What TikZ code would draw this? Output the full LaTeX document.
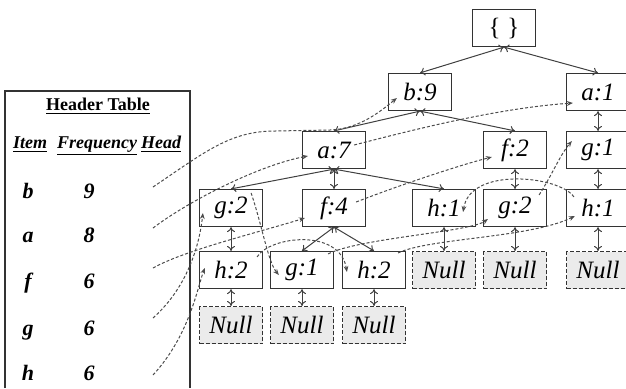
\documentclass[tikz,border=0pt]{standalone}
\usepackage{fontspec}
\setmainfont{Liberation Serif}
\usetikzlibrary{arrows.meta,trees}
\begin{document}
\begin{tikzpicture}[
    x=0.5pt, y=-0.5pt,
    >={To[length=2.5pt,width=4pt]},
    every node/.style={font=\fontsize{12.5}{14}\selectfont\itshape, draw=black!80, line width=0.6pt, minimum width=31.5pt, minimum height=18.5pt, inner sep=0pt},
    nullnode/.style={fill=black!8, dash pattern=on 2pt off 1pt},
    plain/.style={draw=none, minimum width=0pt, minimum height=0pt, inner sep=1pt, anchor=base},
    titletext/.style={plain, font=\fontsize{9}{11}\selectfont\bfseries},
    colhead/.style={plain, font=\fontsize{9}{11}\selectfont\bfseries\itshape},
    rowtext/.style={plain, font=\fontsize{11}{13}\selectfont\bfseries\itshape},
    link/.style={draw=black!70, line width=0.5pt, dash pattern=on 1.5pt off 1pt, -{Stealth[length=3pt,width=2.4pt]}},
    edge from parent/.style={draw=black!75, line width=0.5pt, <->},
    edge from parent path={(\tikzparentnode.south) -- (\tikzchildnode.north)},
    level 1/.style={level distance=32pt, sibling distance=89pt},
    level 2/.style={level distance=29pt, sibling distance=90.5pt},
    level 3/.style={level distance=29pt, sibling distance=55pt},
    level 4/.style={level distance=31pt, sibling distance=36pt},
    level 5/.style={level distance=27.5pt}
]
\useasboundingbox (0,0) rectangle (626,388);
\draw[black!80, line width=0.6pt] (5,388) -- (5,91) -- (190,91) -- (190,388);
\node[titletext] (hdr) at (98,110) {\underline{Header Table}};
\node[colhead] (colitem) at (30,148) {\underline{Item}};
\node[colhead] (colfreq) at (97,148) {\underline{Frequency}};
\node[colhead] (colhd) at (161,148) {\underline{Head}};
\foreach \itm/\fr/\y/\hy in {b/9/198/187, a/8/242/228, f/6/288/268, g/6/335/318, h/6/380/375} {
    \node[rowtext] (it\itm) at (28,\y) {\itm};
    \node[rowtext] (fr\itm) at (89,\y) {\fr};
    \coordinate (hd\itm) at (153,\hy);
}
\node (root) at (504,28) {\upshape\{\;\}}
    child[xshift=2.5pt] {node (b9) {b:9}
        child[xshift=2.25pt] {node (a7) {a:7}
            child[xshift=3.5pt] {node (g2l) {g:2}
                child {node (h2l) {h:2}
                    child {node[nullnode] (n1) {Null}}
                }
            }
            child {node (f4) {f:4}
                child[xshift=2pt] {node (g1m) {g:1}
                    child {node[nullnode] (n2) {Null}}
                }
                child[xshift=2pt] {node (h2m) {h:2}
                    child {node[nullnode] (n3) {Null}}
                }
            }
            child {node (h1m) {h:1}
                child {node[nullnode] (n4) {Null}}
            }
        }
        child[xshift=2.25pt] {node (f2) {f:2}
            child {node (g2r) {g:2}
                child {node[nullnode] (n5) {Null}}
            }
        }
    }
    child[xshift=2.5pt] {node (a1) {a:1}
        child {node (g1r) {g:1}
            child {node (h1r) {h:1}
                child {node[nullnode] (n6) {Null}}
            }
        }
    };
\draw[link] (hdb) .. controls (205,152) and (230,131) .. (275,131) -- (330,130) .. controls (360,129) and (382,110) .. ([xshift=4.5pt,yshift=-3pt]b9.west);
\draw[link] (hda) .. controls (190,200) and (260,165) .. ([xshift=3pt,yshift=-3pt]a7.west);
\draw[link] ([xshift=-6pt,yshift=2.5pt]a7.east) .. controls (420,128) and (500,108) .. ([xshift=3.5pt,yshift=-5.5pt]a1.west);
\draw[link] (hdf) .. controls (185,250) and (260,232) .. ([xshift=1.5pt,yshift=-5pt]f4.west);
\draw[link] ([xshift=-5pt,yshift=3pt]f4.east) .. controls (400,185) and (460,165) .. ([xshift=4.5pt,yshift=-3.5pt]f2.west);
\draw[link] (hdg) .. controls (190,285) and (200,240) .. ([xshift=2pt,yshift=-2.5pt]g2l.west);
\draw[link] ([xshift=-6pt,yshift=-2pt]g2l.north east) .. controls (262,225) and (268,262) .. ([xshift=4.5pt,yshift=-2.5pt]g1m.west);
\draw[link] ([xshift=-3pt,yshift=-1.5pt]g1m.north east) .. controls (360,238) and (470,232) .. ([xshift=2.5pt,yshift=-5.5pt]g2r.west);
\draw[link] ([xshift=-4pt,yshift=-3pt]g2r.north east) .. controls (552,175) and (560,155) .. ([xshift=3pt,yshift=4.5pt]g1r.west);
\draw[link] (hdh) .. controls (190,335) and (198,285) .. ([xshift=3pt,yshift=1pt]h2l.west);
\draw[link] ([xshift=-3pt,yshift=-3pt]h2l.north east) .. controls (270,236) and (340,228) .. ([xshift=2.5pt,yshift=-1pt]h2m.west);
\draw[link] ([xshift=-4pt,yshift=-1pt]h2m.north east) .. controls (430,238) and (530,238) .. ([xshift=4.5pt,yshift=-4pt]h1r.west);
\draw[link] ([xshift=4pt,yshift=-4pt]h1r.north west) .. controls (560,176) and (470,166) .. ([xshift=-6.5pt,yshift=-2pt]h1m.east);
\end{tikzpicture}
\end{document}
